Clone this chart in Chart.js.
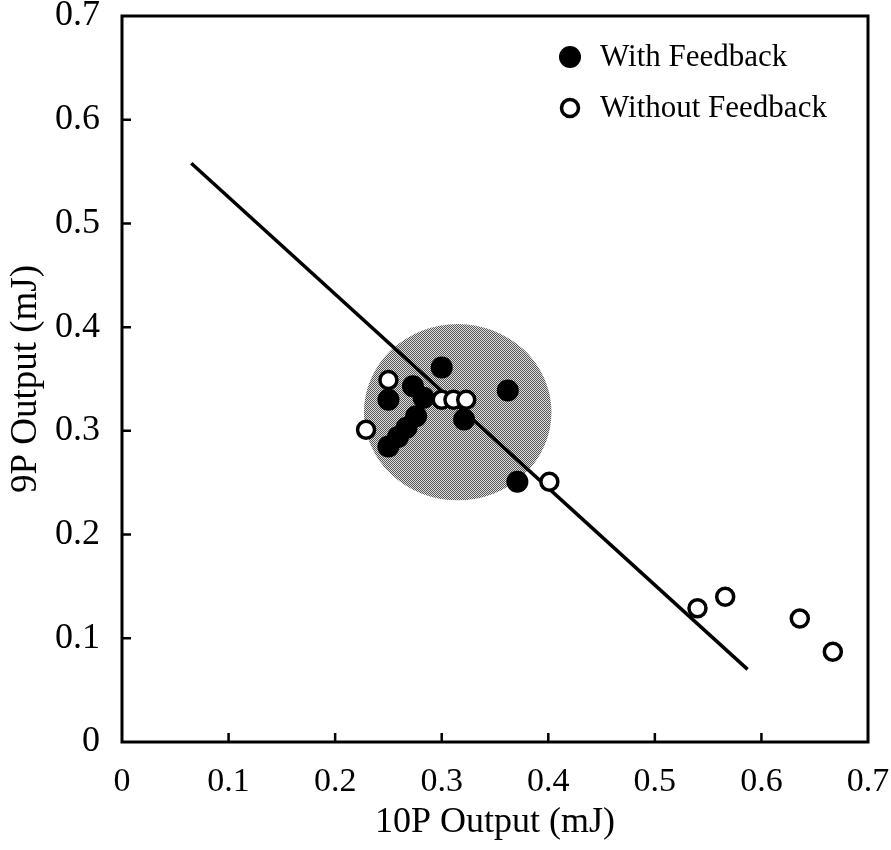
<!DOCTYPE html>
<html>
<head>
<meta charset="utf-8">
<script src="https://cdn.jsdelivr.net/npm/chart.js@4.4.0/dist/chart.umd.min.js"></script>
<style>
  html, body { margin: 0; padding: 0; background: #ffffff; }
  #wrap { width: 891px; height: 850px; }
</style>
</head>
<body>
<div id="wrap"><canvas id="c" width="891" height="850"></canvas></div>
<script>
// ---- data ----
const withFeedbackX = [0.300, 0.362, 0.250, 0.273, 0.283, 0.276, 0.267, 0.259, 0.250, 0.321, 0.371];
const withFeedbackY = [0.361, 0.339, 0.330, 0.343, 0.332, 0.314, 0.303, 0.294, 0.285, 0.311, 0.251];

const withoutFeedbackX = [0.250, 0.229, 0.300, 0.311, 0.323, 0.401, 0.540, 0.566, 0.636, 0.667];
const withoutFeedbackY = [0.349, 0.301, 0.330, 0.330, 0.330, 0.251, 0.129, 0.140, 0.119, 0.087];

const fitLineX = [0.065, 0.587];
const fitLineY = [0.558, 0.070];

const regionCenter = [0.315, 0.318];   // shaded region centre (x, y)
const regionRadius = [0.088, 0.085];   // radius in x units, y units

const axisTicks = [0, 0.1, 0.2, 0.3, 0.4, 0.5, 0.6, 0.7];
const seriesLabels = ['With Feedback', 'Without Feedback'];
const xTitle = '10P Output (mJ)';
const yTitle = '9P Output (mJ)';

// ---- helpers ----
const toPoints = (xs, ys) => xs.map((x, i) => ({ x: x, y: ys[i] }));
const FONT = '"Liberation Serif", "DejaVu Serif", serif';

function makePattern(ctx) {
  const p = document.createElement('canvas');
  p.width = 2; p.height = 2;
  const pc = p.getContext('2d');
  pc.fillStyle = '#e0e0e0'; pc.fillRect(0, 0, 2, 2);
  pc.fillStyle = '#555555'; pc.fillRect(0, 0, 1, 1); pc.fillRect(1, 1, 1, 1);
  return ctx.createPattern(p, 'repeat');
}

const regionPlugin = {
  id: 'region',
  beforeDatasetsDraw(chart) {
    const { ctx, scales: { x, y } } = chart;
    const cx = x.getPixelForValue(regionCenter[0]);
    const cy = y.getPixelForValue(regionCenter[1]);
    const rx = Math.abs(x.getPixelForValue(regionCenter[0] + regionRadius[0]) - cx);
    const ry = Math.abs(y.getPixelForValue(regionCenter[1] + regionRadius[1]) - cy);
    ctx.save();
    ctx.fillStyle = makePattern(ctx);
    ctx.beginPath();
    ctx.ellipse(cx, cy, rx, ry, 0, 0, Math.PI * 2);
    ctx.fill();
    ctx.restore();
  }
};

const framePlugin = {
  id: 'frame',
  afterDraw(chart) {
    const { ctx, chartArea: a, scales: { x, y } } = chart;
    ctx.save();
    ctx.strokeStyle = '#000';
    ctx.lineWidth = 3;
    ctx.strokeRect(a.left, a.top, a.right - a.left, a.bottom - a.top);
    ctx.lineWidth = 2.5;
    ctx.beginPath();
    x.ticks.forEach(t => {
      if (t.value <= 0 || t.value >= 0.7) return;
      const px = x.getPixelForValue(t.value);
      ctx.moveTo(px, a.bottom); ctx.lineTo(px, a.bottom - 9);
    });
    y.ticks.forEach(t => {
      if (t.value <= 0 || t.value >= 0.7) return;
      const py = y.getPixelForValue(t.value);
      ctx.moveTo(a.left, py); ctx.lineTo(a.left + 9, py);
    });
    ctx.stroke();

    // legend inside plot area
    const lx = a.left + 448, ly1 = a.top + 41, ly2 = a.top + 92;
    ctx.fillStyle = '#000';
    ctx.beginPath(); ctx.arc(lx, ly1, 11, 0, Math.PI * 2); ctx.fill();
    ctx.beginPath(); ctx.arc(lx, ly2, 8.5, 0, Math.PI * 2);
    ctx.fillStyle = '#fff'; ctx.fill();
    ctx.lineWidth = 3.5; ctx.stroke();
    ctx.fillStyle = '#000';
    ctx.font = '31px ' + FONT;
    ctx.textBaseline = 'middle';
    ctx.textAlign = 'left';
    ctx.fillText(seriesLabels[0], lx + 30, ly1 + 1);
    ctx.fillText(seriesLabels[1], lx + 30, ly2 + 1);
    ctx.restore();
  }
};

const fmt = v => (Math.abs(v) < 1e-9 ? '0' : Number(v).toFixed(1));
const noPad = s => { s.paddingLeft = 0; s.paddingRight = 0; s.paddingTop = 0; s.paddingBottom = 0; };

new Chart(document.getElementById('c'), {
  type: 'scatter',
  data: {
    datasets: [
      {
        label: seriesLabels[1],
        data: toPoints(withoutFeedbackX, withoutFeedbackY),
        pointRadius: 8.5,
        pointBackgroundColor: '#ffffff',
        pointBorderColor: '#000000',
        pointBorderWidth: 3.5,
        order: 1
      },
      {
        label: seriesLabels[0],
        data: toPoints(withFeedbackX, withFeedbackY),
        pointRadius: 11,
        pointBackgroundColor: '#000000',
        pointBorderColor: '#000000',
        pointBorderWidth: 0,
        order: 2
      },
      {
        label: 'fit',
        data: toPoints(fitLineX, fitLineY),
        showLine: true,
        borderColor: '#000000',
        borderWidth: 3.5,
        pointRadius: 0,
        order: 3
      }
    ]
  },
  options: {
    responsive: false,
    animation: false,
    events: [],
    layout: { padding: { top: 16, right: 23, left: 0, bottom: 0 } },
    plugins: { legend: { display: false }, tooltip: { enabled: false } },
    scales: {
      x: {
        type: 'linear',
        min: 0, max: 0.7,
        afterBuildTicks: s => { s.ticks = axisTicks.map(v => ({ value: v })); },
        afterFit: s => { s.height = 108; noPad(s); },
        grid: { display: false },
        border: { display: false },
        ticks: { padding: 12, color: '#000', font: { family: FONT, size: 34 }, callback: fmt, maxRotation: 0 },
        title: { display: true, text: xTitle, color: '#000', font: { family: FONT, size: 36 }, padding: { top: 0, bottom: 6 } }
      },
      y: {
        type: 'linear',
        min: 0, max: 0.7,
        afterBuildTicks: s => { s.ticks = axisTicks.map(v => ({ value: v })); },
        afterFit: s => { s.width = 122; noPad(s); },
        grid: { display: false },
        border: { display: false },
        ticks: { padding: 14, color: '#000', font: { family: FONT, size: 36 }, callback: fmt },
        title: { display: true, text: yTitle, color: '#000', font: { family: FONT, size: 37 }, padding: { top: 4, bottom: 0 } }
      }
    }
  },
  plugins: [regionPlugin, framePlugin]
});
</script>
</body>
</html>
